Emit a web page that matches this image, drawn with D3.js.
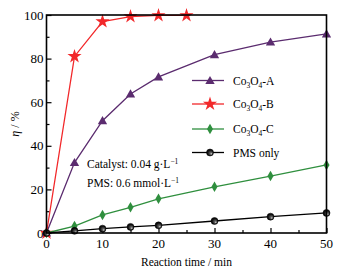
<!DOCTYPE html>
<html>
<head>
<meta charset="utf-8">
<script src="https://cdn.jsdelivr.net/npm/d3@7"></script>
<style>
  body { margin: 0; background: #fff; }
</style>
</head>
<body>
<svg id="chart" width="346" height="272"></svg>
<script>
// data
const timeA = [0, 5, 10, 15, 20, 30, 40, 50];
const etaA = [0, 32.3, 51.5, 63.8, 71.6, 81.8, 87.6, 91.3];
const timeB = [0, 5, 10, 15, 20, 25];
const etaB = [0, 81, 97, 99.3, 99.8, 99.8];
const timeC = [0, 5, 10, 15, 20, 30, 40, 50];
const etaC = [0, 3.2, 8.3, 11.8, 15.7, 21.2, 26.1, 31.2];
const timePMS = [0, 5, 10, 15, 20, 30, 40, 50];
const etaPMS = [0, 1, 2, 2.8, 3.5, 5.5, 7.5, 9.2];
const xTicks = [0, 10, 20, 30, 40, 50];
const yTicks = [0, 20, 40, 60, 80, 100];

const series = [
  { name: "A", t: timeA, v: etaA, color: "#5b2c6f", shape: "triangle" },
  { name: "B", t: timeB, v: etaB, color: "#f2282a", shape: "star" },
  { name: "C", t: timeC, v: etaC, color: "#2f8f3e", shape: "diamond" },
  { name: "PMS only", t: timePMS, v: etaPMS, color: "#000", shape: "ball" }
];

const FONT = "Liberation Serif";
const svg = d3.select("#chart");
const m = { left: 46.5, right: 326.5, top: 15, bottom: 233 };

const x = d3.scaleLinear().domain([0, 50]).range([m.left, m.right]);
const y = d3.scaleLinear().domain([0, 100]).range([m.bottom, m.top]);

// gradient for the black balls
const defs = svg.append("defs");
const grad = defs.append("radialGradient").attr("id", "ball")
  .attr("cx", "50%").attr("cy", "50%").attr("r", "55%")
  .attr("fx", "72%").attr("fy", "72%");
grad.append("stop").attr("offset", "0%").attr("stop-color", "#eee");
grad.append("stop").attr("offset", "25%").attr("stop-color", "#666");
grad.append("stop").attr("offset", "70%").attr("stop-color", "#111");
grad.append("stop").attr("offset", "100%").attr("stop-color", "#000");

defs.append("clipPath").attr("id", "clip").append("rect")
  .attr("x", m.left - 6).attr("y", m.top - 8)
  .attr("width", m.right - m.left + 12).attr("height", m.bottom - m.top + 14);

// ticks: inward, major + minor
const gx = svg.append("g").attr("transform", `translate(0,${m.bottom})`);
gx.call(d3.axisBottom(x).tickValues(d3.range(0, 51, 5)).tickSize(-3).tickFormat(""));
gx.selectAll(".tick line").attr("y2", d => d % 10 === 0 ? -5 : -3)
  .attr("stroke", "#000").attr("stroke-width", 1.2);
gx.select(".domain").remove();

const gy = svg.append("g").attr("transform", `translate(${m.left},0)`);
gy.call(d3.axisLeft(y).tickValues(d3.range(0, 101, 10)).tickSize(-3).tickFormat(""));
gy.selectAll(".tick line").attr("x2", d => d % 20 === 0 ? 5 : 3)
  .attr("stroke", "#000").attr("stroke-width", 1.2);
gy.select(".domain").remove();

// tick labels
svg.append("g").selectAll("text").data(xTicks).join("text")
  .attr("font-family", FONT)
  .attr("x", d => x(d)).attr("y", m.bottom + 15)
  .attr("text-anchor", "middle").attr("font-size", 13).text(d => d);
svg.append("g").selectAll("text").data(yTicks).join("text")
  .attr("font-family", FONT)
  .attr("x", m.left - 3).attr("y", d => y(d) + 4.5)
  .attr("text-anchor", "end").attr("font-size", 13).text(d => d);

// axis titles
svg.append("text").attr("x", (m.left + m.right) / 2).attr("y", 266)
  .attr("font-family", FONT)
  .attr("text-anchor", "middle").attr("font-size", 11.5).text("Reaction time / min");
const yl = svg.append("text").attr("transform", `translate(19,${(m.top + m.bottom) / 2}) rotate(-90)`)
  .attr("font-family", FONT)
  .attr("text-anchor", "middle").attr("font-size", 12);
yl.append("tspan").attr("font-style", "italic").text("η");
yl.append("tspan").text(" / %");

// marker shapes
function marker(sel, s) {
  if (s.shape === "ball") {
    sel.append("circle").attr("r", 3.5).attr("fill", "url(#ball)")
      .attr("stroke", "#000").attr("stroke-width", 0.5);
    return;
  }
  const type = s.shape === "triangle" ? d3.symbolTriangle
    : s.shape === "star" ? d3.symbolStar : d3.symbolDiamond;
  const area = s.shape === "star" ? 62 : s.shape === "triangle" ? 38 : 32;
  sel.append("path").attr("d", d3.symbol(type, area)())
    .attr("fill", s.color)
    .attr("transform", s.shape === "triangle" ? "translate(0,0.8)" : null);
}

const line = d3.line().x(d => x(d[0])).y(d => y(d[1]));
const plot = svg.append("g").attr("clip-path", "url(#clip)");

series.forEach(s => {
  const pts = d3.zip(s.t, s.v);
  plot.append("path").attr("d", line(pts)).attr("fill", "none")
    .attr("stroke", s.color).attr("stroke-width", 1.3);
  plot.append("g").selectAll("g").data(pts).join("g")
    .attr("transform", d => `translate(${x(d[0])},${y(d[1])})`)
    .each(function () { marker(d3.select(this), s); });
});

// frame
svg.append("rect").attr("x", m.left).attr("y", m.top)
  .attr("width", m.right - m.left).attr("height", m.bottom - m.top)
  .attr("fill", "none").attr("stroke", "#000").attr("stroke-width", 1.6);

// legend
const legY = [80.5, 104, 129, 152.5];
series.forEach((s, i) => {
  const g = svg.append("g").attr("transform", `translate(0,${legY[i]})`);
  g.append("line").attr("x1", 192).attr("x2", 224).attr("y1", 0).attr("y2", 0)
    .attr("stroke", s.color).attr("stroke-width", 1.3);
  const mg = g.append("g").attr("transform", "translate(210,0)");
  marker(mg, s);
  const t = g.append("text").attr("x", 233).attr("y", 4)
    .attr("font-family", FONT).attr("font-size", 11.5);
  if (s.name === "PMS only") {
    t.text("PMS only");
  } else {
    t.append("tspan").text("Co");
    t.append("tspan").attr("font-size", 7.5).attr("dy", 3).text("3");
    t.append("tspan").attr("dy", -3).text("O");
    t.append("tspan").attr("font-size", 7.5).attr("dy", 3).text("4");
    t.append("tspan").attr("dy", -3).text("-" + s.name);
  }
});

// conditions
const note1 = svg.append("text").attr("x", 87).attr("y", 168)
  .attr("font-family", FONT).attr("font-size", 11.5);
note1.append("tspan").text("Catalyst: 0.04 g\u00b7L");
note1.append("tspan").attr("font-size", 7.5).attr("dy", -4).text("\u22121");
const note2 = svg.append("text").attr("x", 87).attr("y", 187)
  .attr("font-family", FONT).attr("font-size", 11.5);
note2.append("tspan").text("PMS: 0.6 mmol\u00b7L");
note2.append("tspan").attr("font-size", 7.5).attr("dy", -4).text("\u22121");
</script>
</body>
</html>
